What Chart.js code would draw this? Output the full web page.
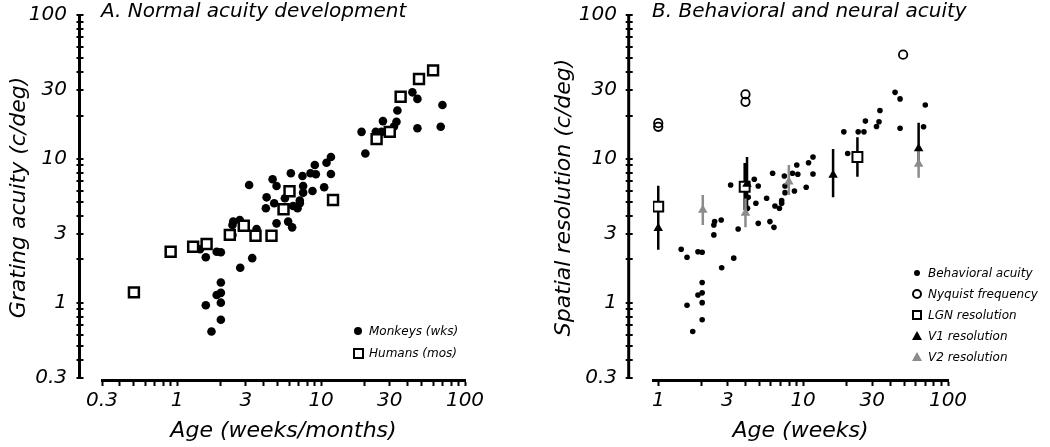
<!DOCTYPE html>
<html>
<head>
<meta charset="utf-8">
<title>Acuity development</title>
<script src="https://cdn.jsdelivr.net/npm/chart.js@4.4.1/dist/chart.umd.min.js"></script>
<style>
  body { margin: 0; background: #fff; }
  #wrap { position: relative; width: 1050px; height: 447px; overflow: hidden;
          font-family: 'DejaVu Sans', sans-serif; font-style: italic; color: #000; }
  #chartA { position: absolute; left: 0; top: 0; }
  #chartB { position: absolute; left: 545px; top: 0; }
  .panel-title { position: absolute; top: -1px; font-size: 20px; line-height: 23px; white-space: nowrap; }
  .legend { position: absolute; font-size: 12px; }
  .legend-item { display: flex; align-items: center; white-space: nowrap; }
  .mk { width: 12px; display: flex; justify-content: center; align-items: center; margin-right: 5px; }
  .mk-dot    { width: 6px; height: 6px; border-radius: 50%; background: #000; }
  .mk-dotbig { width: 8px; height: 8px; border-radius: 50%; background: #000; }
  .mk-circ   { width: 6px; height: 6px; border-radius: 50%; border: 2px solid #000; }
  .mk-sq     { width: 6px; height: 6px; border: 2px solid #000; }
  .mk-sqbig  { width: 7px; height: 7px; border: 2.5px solid #000; }
  .mk-tri    { width: 0; height: 0; border-left: 5px solid transparent; border-right: 5px solid transparent; border-bottom: 9px solid #000; }
  .mk-trig   { width: 0; height: 0; border-left: 5px solid transparent; border-right: 5px solid transparent; border-bottom: 9px solid #8c8c8c; }
</style>
</head>
<body>
<div id="wrap">
  <canvas id="chartA" width="545" height="447"></canvas>
  <canvas id="chartB" width="505" height="447"></canvas>
  <div class="panel-title" style="left:101px;">A. Normal acuity development</div>
  <div class="panel-title" style="left:652px;">B. Behavioral and neural acuity</div>
  <div class="legend" id="legendA" style="left:352px; top:320px;"></div>
  <div class="legend" id="legendB" style="left:911px; top:263px;"></div>
</div>

<script>
// =========================================
// Acuity development
// =========================================

// ---- Monkeys: age (weeks) vs grating acuity (c/deg); also "Behavioral acuity" in B ----
const monkeyAge = [1.73, 2.01, 1.58, 2.01, 1.88, 2.01, 2.01, 2.74, 3.32, 1.58,
                   1.44, 1.88, 2.01, 2.42, 2.42, 2.45, 2.72, 3.56, 4.9, 5.9,
                   6.29, 4.13, 4.18, 4.72, 5.6, 6.39, 6.86, 7.11, 7.11, 7.5,
                   7.5, 8.71, 10.5, 3.16, 4.6, 4.9, 6.16, 7.42, 8.44, 9.19,
                   9.04, 10.9, 11.7, 11.7, 19.1, 20.3, 24.0, 26.9, 26.3, 33.4,
                   33.9, 32.1, 43.1, 46.7, 46.7, 69.7, 67.8];
const monkeyAcuity = [0.63, 0.76, 0.96, 1.00, 1.13, 1.17, 1.38, 1.75, 2.04, 2.07,
                      2.35, 2.26, 2.24, 2.96, 3.47, 3.66, 3.76, 3.25, 3.56, 3.66,
                      3.34, 4.53, 5.40, 4.91, 5.32, 4.70, 4.53, 4.91, 5.12, 5.82,
                      6.48, 5.98, 6.34, 6.58, 7.21, 6.48, 7.94, 7.60, 7.94, 7.81,
                      9.06, 9.40, 10.3, 7.85, 15.4, 10.9, 15.4, 18.3, 15.4, 18.1,
                      21.7, 16.8, 29.0, 26.1, 16.3, 23.7, 16.7];

// ---- Humans: age (months) vs grating acuity ----
const humanAge    = [0.50, 0.90, 1.29, 1.60, 2.32, 2.90, 3.50, 4.52, 5.48, 6.03, 12.1, 24.3, 30.0, 35.7, 47.9, 60.0];
const humanAcuity = [1.18, 2.26, 2.45, 2.56, 2.96, 3.43, 2.92, 2.92, 4.46, 5.95, 5.17, 13.7, 15.4, 27.0, 35.9, 41.2];

// ---- Panel B: neural resolution ----
const nyquistAge  = [1, 1, 4, 4, 49];
const nyquistFreq = [17.7, 16.7, 28.1, 24.9, 53];

const lgnAge  = [1, 3.95, 23.7];
const lgnRes  = [4.65, 6.4, 10.3];
const lgnLow  = [3.33, 4.4, 7.5];
const lgnHigh = [6.5, 9.35, 14.1];

const v1Age  = [1, 4.1, 16.1, 62.7];
const v1Res  = [3.29, 6.69, 7.72, 11.8];
const v1Low  = [2.33, 4.3, 5.4, 9.5];
const v1High = [4.65, 10.3, 11.7, 17.8];

const v2Age  = [2.03, 4.0, 7.97, 62.7];
const v2Res  = [4.41, 4.2, 6.94, 9.2];
const v2Low  = [3.47, 3.35, 5.6, 7.4];
const v2High = [5.6, 5.3, 9.06, 11.4];

// ---- Ticks ----
const yTicks      = [0.3, 0.4, 0.5, 0.6, 0.7, 0.8, 0.9, 1, 2, 3, 4, 5, 6, 7, 8, 9, 10, 20, 30, 40, 50, 60, 70, 80, 90, 100];
const yTickLabels = [0.3, 1, 3, 10, 30, 100];
const xTicksA      = [0.3, 0.4, 0.5, 0.6, 0.7, 0.8, 0.9, 1, 2, 3, 4, 5, 6, 7, 8, 9, 10, 20, 30, 40, 50, 60, 70, 80, 90, 100];
const xTickLabelsA = [0.3, 1, 3, 10, 30, 100];
const xTicksB      = [1, 2, 3, 4, 5, 6, 7, 8, 9, 10, 20, 30, 40, 50, 60, 70, 80, 90, 100];
const xTickLabelsB = [1, 3, 10, 30, 100];

// ---- Shared styles ----
const FONT      = "'DejaVu Sans', sans-serif";
const tickFont  = { family: FONT, size: 20, style: 'italic' };
const titleFont = { family: FONT, size: 22, style: 'italic' };
const GRAY      = '#8c8c8c';

function toPoints(xs, ys) {
  return xs.map(function (x, i) { return { x: x, y: ys[i] }; });
}

// vertical segments lo..hi, separated by gaps
function errorBars(xs, lo, hi) {
  const pts = [];
  xs.forEach(function (x, i) {
    pts.push({ x: x, y: lo[i] }, { x: x, y: hi[i] }, { x: x, y: null });
  });
  return pts;
}

// ---- Detached y axis (drawn left of the plot, like the original) ----
const offsetAxis = {
  id: 'offsetAxis',
  afterDraw: function (chart, args, opts) {
    const ys  = chart.scales.y;
    const ctx = chart.ctx;
    const ax  = chart.chartArea.left - opts.gap;
    ctx.save();
    ctx.strokeStyle = '#000';
    ctx.lineWidth = 3;
    ctx.beginPath();
    ctx.moveTo(ax, ys.getPixelForValue(100) - 1);
    ctx.lineTo(ax, ys.getPixelForValue(0.3) + 1);
    ctx.stroke();
    ctx.lineWidth = 2;
    ys.ticks.forEach(function (t) {
      const py = Math.round(ys.getPixelForValue(t.value));
      ctx.beginPath();
      ctx.moveTo(ax - 3, py);
      ctx.lineTo(ax + 4, py);
      ctx.stroke();
    });
    ctx.restore();
  }
};

function axisOptions(xMin, xTicks, xLabels, xTitle, yTitle, yWidth, yPad) {
  return {
    x: {
      type: 'logarithmic', min: xMin, max: 100,
      afterBuildTicks: function (s) { s.ticks = xTicks.map(function (v) { return { value: v }; }); },
      afterFit: function (s) { s.height = 67; },
      grid: { display: true, drawOnChartArea: false, drawTicks: true, tickLength: 6, tickWidth: 2, tickColor: '#000' },
      border: { display: true, color: '#000', width: 3 },
      ticks: {
        autoSkip: false, maxRotation: 0, padding: 3, color: '#000', font: tickFont,
        callback: function (v) { return xLabels.includes(v) ? String(v) : ''; }
      },
      title: { display: true, text: xTitle, color: '#000', font: titleFont, padding: { top: 0, bottom: 3 } }
    },
    y: {
      type: 'logarithmic', min: 0.29, max: 100,
      afterBuildTicks: function (s) { s.ticks = yTicks.map(function (v) { return { value: v }; }); },
      afterFit: function (s) {
        s.width = yWidth;
        s.paddingTop = 0;      // labels may overhang; keep plot top fixed
        s.paddingBottom = 0;
      },
      grid: { display: false, drawTicks: false },
      border: { display: false },
      ticks: {
        autoSkip: false, padding: yPad, color: '#000', font: tickFont,
        callback: function (v) { return yTickLabels.includes(v) ? String(v) : ''; }
      },
      title: { display: true, text: yTitle, color: '#000', font: titleFont, padding: { top: 6, bottom: 0 } }
    }
  };
}

// ---- Panel A ----
new Chart(document.getElementById('chartA'), {
  type: 'scatter',
  data: {
    datasets: [{
      label: 'Humans (mos)',
      data: toPoints(humanAge, humanAcuity),
      pointStyle: 'rect', pointRadius: 7, borderWidth: 2.5,
      borderColor: '#000', backgroundColor: '#fff', order: 0
    }, {
      label: 'Monkeys (wks)',
      data: toPoints(monkeyAge, monkeyAcuity),
      pointStyle: 'circle', pointRadius: 4.3, borderWidth: 0,
      backgroundColor: '#000', order: 1
    }]
  },
  options: {
    responsive: false, animation: false, events: [],
    layout: { autoPadding: false, padding: { left: 0, right: 80, top: 15, bottom: 0 } },
    scales: axisOptions(0.3, xTicksA, xTickLabelsA, 'Age (weeks/months)', 'Grating acuity (c/deg)', 102, 35),
    plugins: {
      legend: { display: false },
      tooltip: { enabled: false },
      offsetAxis: { gap: 22.5 }
    }
  },
  plugins: [offsetAxis]
});

// ---- Panel B ----
new Chart(document.getElementById('chartB'), {
  type: 'scatter',
  data: {
    datasets: [{
      label: 'V2 resolution',
      data: toPoints(v2Age, v2Res),
      pointStyle: 'triangle', pointRadius: 5.5, borderWidth: 0,
      backgroundColor: GRAY, order: 0
    }, {
      label: 'V1 resolution',
      data: toPoints(v1Age, v1Res),
      pointStyle: 'triangle', pointRadius: 5.5, borderWidth: 0,
      backgroundColor: '#000', order: 1
    }, {
      label: 'LGN resolution',
      data: toPoints(lgnAge, lgnRes),
      pointStyle: 'rect', pointRadius: 7, borderWidth: 2,
      borderColor: '#000', backgroundColor: '#fff', order: 2
    }, {
      label: 'V2 error',
      data: errorBars(v2Age, v2Low, v2High),
      showLine: true, spanGaps: false, pointRadius: 0, borderWidth: 2.5,
      borderColor: GRAY, order: 3
    }, {
      label: 'LGN/V1 error',
      data: errorBars(lgnAge.concat(v1Age), lgnLow.concat(v1Low), lgnHigh.concat(v1High)),
      showLine: true, spanGaps: false, pointRadius: 0, borderWidth: 2.5,
      borderColor: '#000', order: 4
    }, {
      label: 'Nyquist frequency',
      data: toPoints(nyquistAge, nyquistFreq),
      pointStyle: 'circle', pointRadius: 4.2, borderWidth: 1.8,
      borderColor: '#000', backgroundColor: 'rgba(0,0,0,0)', order: 5
    }, {
      label: 'Behavioral acuity',
      data: toPoints(monkeyAge, monkeyAcuity),
      pointStyle: 'circle', pointRadius: 2.8, borderWidth: 0,
      backgroundColor: '#000', order: 6
    }]
  },
  options: {
    responsive: false, animation: false, events: [],
    layout: { autoPadding: false, padding: { left: 0, right: 102, top: 15, bottom: 0 } },
    scales: axisOptions(0.92, xTicksB, xTickLabelsB, 'Age (weeks)', 'Spatial resolution (c/deg)', 108, 36),
    plugins: {
      legend: { display: false },
      tooltip: { enabled: false },
      offsetAxis: { gap: 24.3 }
    }
  },
  plugins: [offsetAxis]
});

// ---- HTML legends ----
function buildLegend(el, items, rowH) {
  el.innerHTML = '';
  items.forEach(function (it) {
    const row = document.createElement('div');
    row.className = 'legend-item';
    row.style.height = rowH + 'px';
    row.innerHTML = '<span class="mk"><span class="' + it[0] + '"></span></span>' + it[1];
    el.appendChild(row);
  });
}

buildLegend(document.getElementById('legendA'), [
  ['mk-dotbig', 'Monkeys (wks)'],
  ['mk-sqbig',  'Humans (mos)']
], 22);

buildLegend(document.getElementById('legendB'), [
  ['mk-dot',  'Behavioral acuity'],
  ['mk-circ', 'Nyquist frequency'],
  ['mk-sq',   'LGN resolution'],
  ['mk-tri',  'V1 resolution'],
  ['mk-trig', 'V2 resolution']
], 20.8);
</script>
</body>
</html>
